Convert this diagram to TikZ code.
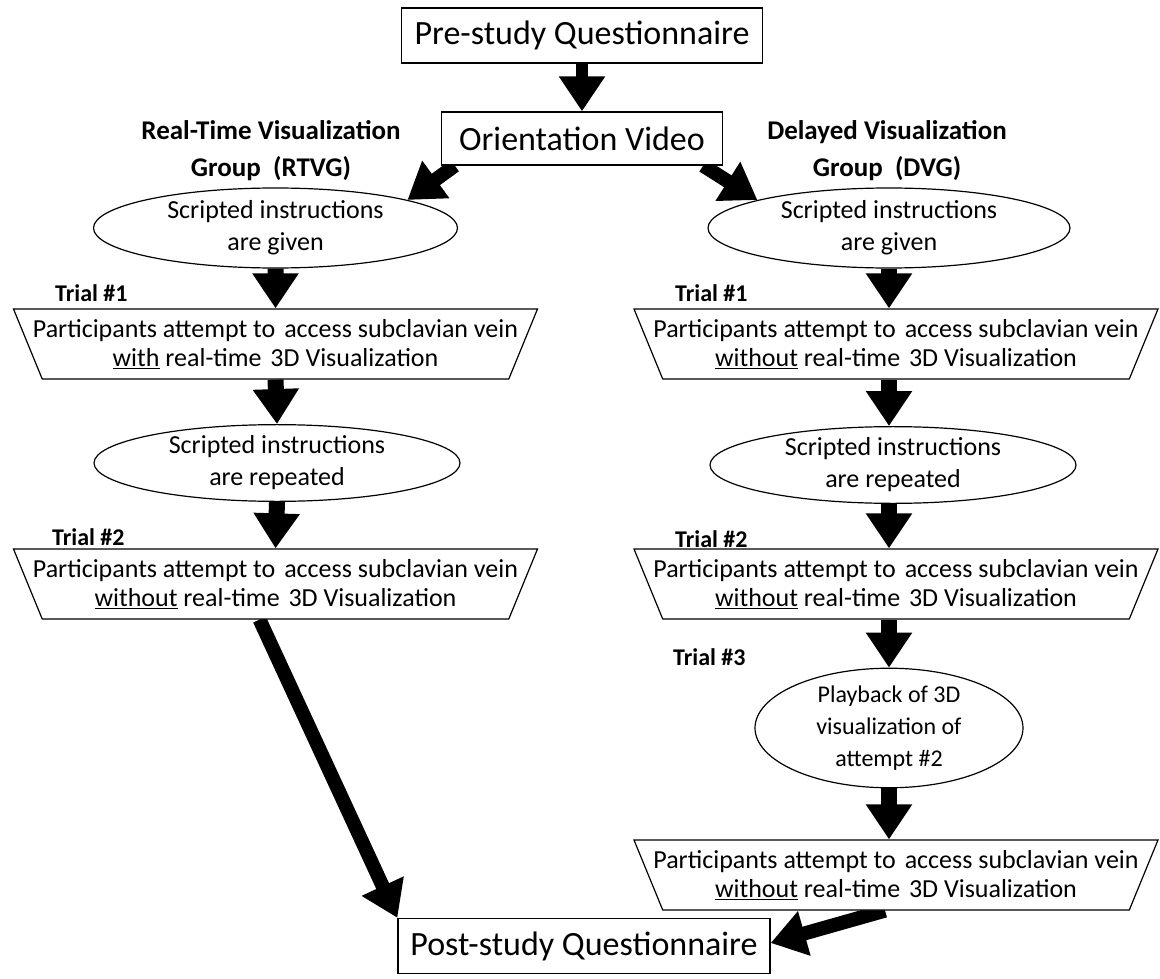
\documentclass[tikz,border=0pt]{standalone}
\usepackage{fontspec}
\setmainfont{Carlito}
\usetikzlibrary{shapes.geometric,arrows.meta,backgrounds}
\newcommand{\wsp}{\hspace{0.34em}}
\begin{document}
\begin{tikzpicture}[x=1pt,y=-1pt,
  rbox/.style={draw, line width=1.3pt, fill=white, inner sep=0pt, font=\fontsize{34}{38}\selectfont},
  ell/.style={draw, ellipse, line width=1.2pt, fill=white, inner sep=0pt, align=center, font=\fontsize{26}{32}\selectfont},
  trap/.style={draw, trapezium, trapezium stretches body, shape border rotate=180,
    trapezium left angle=60, trapezium right angle=60, line width=1.2pt, fill=white,
    inner xsep=-40pt, inner ysep=0pt, minimum width=524pt, minimum height=70pt, align=center,
    font=\fontsize{26}{29.5}\selectfont},
  lbl/.style={font=\bfseries\fontsize{27}{37}\selectfont, align=center},
  trial/.style={font=\bfseries\fontsize{24}{26}\selectfont, anchor=west, inner sep=0pt},
  blk/.style={line width=16pt, -{Triangle[width=44pt,length=35pt]}}]
\useasboundingbox (0,0) rectangle (1160,979);

\node[rbox, minimum width=361pt, minimum height=55pt] (pre) at (582,35.5) {Pre-study Questionnaire};
\node[rbox, minimum width=281pt, minimum height=53pt] (ov) at (582,138.5) {Orientation Video};
\node[lbl] (rtvg) at (271,151) {Real-Time Visualization\\Group~ (RTVG)};
\node[lbl] (dvg) at (887,151) {Delayed Visualization\\Group~ (DVG)};

% left column
\node[ell, minimum width=364pt, minimum height=80pt] (e1l) at (275.5,228) {Scripted instructions\\are given};
\node[trial] (t1l) at (55,293) {Trial \#1};
\node[trap] (p1l) at (275.5,344) {Participants attempt to\wsp access subclavian vein\\\underline{with} real-time\wsp 3D Visualization};
\node[ell, minimum width=366pt, minimum height=72pt] (e2l) at (277,463) {Scripted instructions\\are repeated};
\node[trial] (t2l) at (52,537) {Trial \#2};
\node[trap] (p2l) at (275.5,584) {Participants attempt to\wsp access subclavian vein\\\underline{without} real-time\wsp 3D Visualization};

% right column
\node[ell, minimum width=362pt, minimum height=80pt] (e1r) at (889,228) {Scripted instructions\\are given};
\node[trial] (t1r) at (675,293) {Trial \#1};
\node[trap] (p1r) at (896,344) {Participants attempt to\wsp access subclavian vein\\\underline{without} real-time\wsp 3D Visualization};
\node[ell, minimum width=366pt, minimum height=74pt] (e2r) at (893,465) {Scripted instructions\\are repeated};
\node[trial] (t2r) at (675,539) {Trial \#2};
\node[trap] (p2r) at (896,584) {Participants attempt to\wsp access subclavian vein\\\underline{without} real-time\wsp 3D Visualization};
\node[trial] (t3r) at (673,657) {Trial \#3};
\node[ell, minimum width=268pt, minimum height=118pt, font=\fontsize{24}{32}\selectfont] (e3r) at (889,728) {Playback of 3D\\visualization of\\attempt \#2};
\node[trap] (p3r) at (896,875) {Participants attempt to\wsp access subclavian vein\\\underline{without} real-time\wsp 3D Visualization};

\node[rbox, minimum width=372pt, minimum height=55pt] (post) at (584,946) {Post-study Questionnaire};

\begin{pgfonlayer}{background}
\draw[blk, line width=12pt] (pre.south) -- (ov.north);
\draw[blk, line width=14pt] ([xshift=14pt]ov.south west) -- (e1l.12);
\draw[blk, line width=14pt] ([xshift=-20pt]ov.south east) -- (e1r.168);
\draw[blk] (e1l.south) -- (p1l.north);
\draw[blk] (p1l.south) -- (e2l.north);
\draw[blk] (e2l.south) -- (p2l.north);
\draw[blk, line width=14pt] ([xshift=-16pt]p2l.south) -- (post.north west);
\draw[blk] (e1r.south) -- (p1r.north -| e1r.south);
\draw[blk] (p1r.south -| e1r.south) -- (e2r.north -| e1r.south);
\draw[blk] (e2r.south -| e1r.south) -- (p2r.north -| e1r.south);
\draw[blk] (p2r.south -| e1r.south) -- (e3r.north);
\draw[blk] (e3r.south) -- (p3r.north -| e3r.south);
\draw[blk, line width=14pt] ([xshift=-11pt]p3r.south) -- ([yshift=3pt]post.east);
\end{pgfonlayer}
\end{tikzpicture}
\end{document}
